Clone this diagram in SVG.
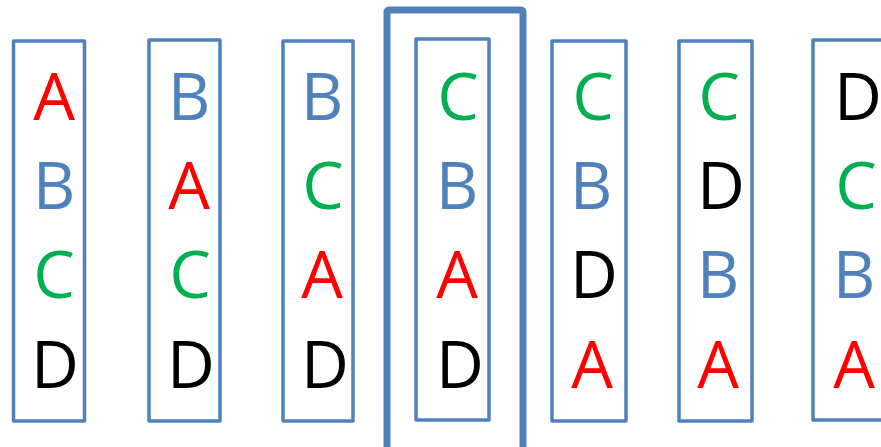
<svg xmlns="http://www.w3.org/2000/svg" width="881" height="447" viewBox="0 0 881 447">
<style>
.box{fill:none;stroke:#4F81BD;stroke-width:3.5;stroke-linejoin:round}
.outer{fill:none;stroke:#4F81BD;stroke-width:7;stroke-linejoin:round}
text{font-family:"Open Sans","Noto Sans",sans-serif;font-size:66px;text-anchor:middle}
.r{fill:#FF0000}.b{fill:#4F81BD}.g{fill:#00B050}.k{fill:#000000}
</style>
<rect width="881" height="447" fill="#ffffff"/>
<g id="highlight"><rect class="outer" x="387" y="10" width="136" height="450" rx="2"/></g>
<g id="col1"><rect class="box" x="13.5" y="41" width="71" height="380"/>
<text x="54" y="120" class="r">A</text><text x="54" y="209" class="b">B</text><text x="54" y="298" class="g">C</text><text x="55" y="388" class="k">D</text></g>
<g id="col2"><rect class="box" x="149" y="40" width="71" height="381"/>
<text x="189" y="120" class="b">B</text><text x="189" y="209" class="r">A</text><text x="190" y="298" class="g">C</text><text x="191" y="388" class="k">D</text></g>
<g id="col3"><rect class="box" x="283" y="41" width="70" height="380"/>
<text x="322" y="120" class="b">B</text><text x="323" y="209" class="g">C</text><text x="322" y="298" class="r">A</text><text x="325" y="388" class="k">D</text></g>
<g id="col4"><rect class="box" x="416" y="39" width="73" height="381"/>
<text x="458" y="120" class="g">C</text><text x="457" y="209" class="b">B</text><text x="457" y="298" class="r">A</text><text x="460" y="388" class="k">D</text></g>
<g id="col5"><rect class="box" x="552" y="41" width="74" height="380"/>
<text x="593" y="120" class="g">C</text><text x="591" y="209" class="b">B</text><text x="594" y="298" class="k">D</text><text x="592" y="388" class="r">A</text></g>
<g id="col6"><rect class="box" x="679" y="41" width="73" height="380"/>
<text x="719" y="120" class="g">C</text><text x="721" y="209" class="k">D</text><text x="718" y="298" class="b">B</text><text x="718" y="388" class="r">A</text></g>
<g id="col7"><rect class="box" x="813" y="40" width="80" height="380"/>
<text x="858" y="120" class="k">D</text><text x="856" y="209" class="g">C</text><text x="854" y="298" class="b">B</text><text x="854" y="388" class="r">A</text></g>
</svg>
